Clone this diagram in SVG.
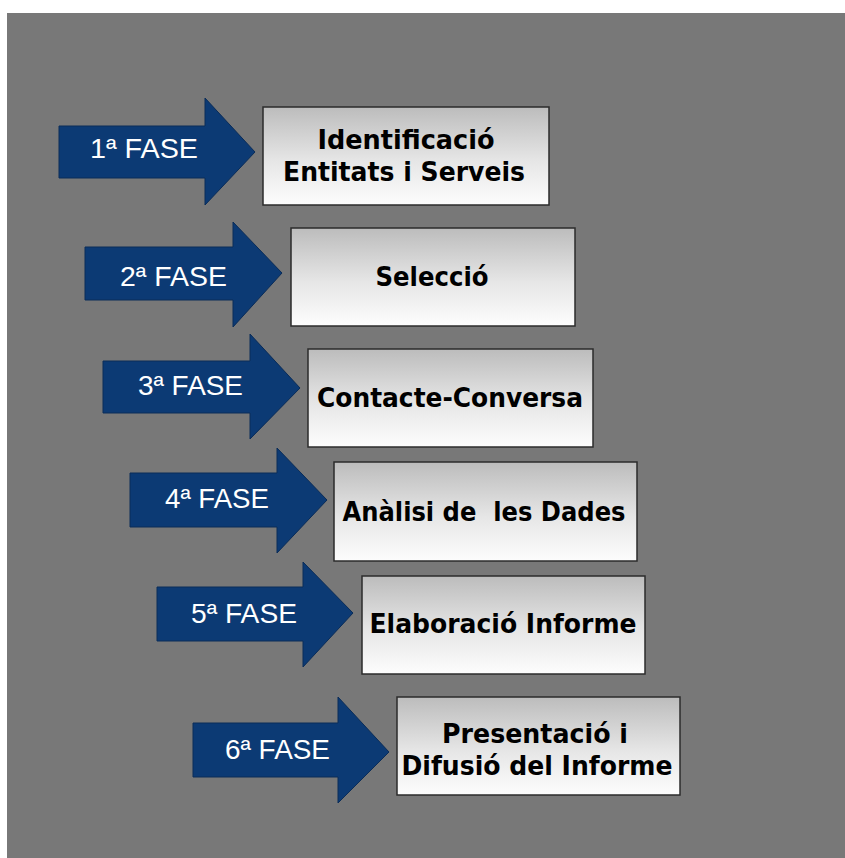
<svg xmlns="http://www.w3.org/2000/svg" width="845" height="858" viewBox="0 0 845 858">
  <defs>
    <linearGradient id="boxGrad" x1="0" y1="0" x2="0" y2="1">
      <stop offset="0" stop-color="#bcbcbc"/>
      <stop offset="0.55" stop-color="#e6e6e6"/>
      <stop offset="1" stop-color="#fdfdfd"/>
    </linearGradient>
    <style>
      .arrow { fill: #0c3a74; stroke: #0a2c58; stroke-width: 1; }
      .box { fill: url(#boxGrad); stroke: #2b2b2b; stroke-width: 1.5; }
      .fase { font-family: "Liberation Sans", Arial, sans-serif; font-size: 28px; fill: #ffffff; }
      .title { font-family: "DejaVu Sans", Verdana, sans-serif; font-weight: bold; font-size: 27px; fill: #000000; text-anchor: middle; white-space: pre; }
    </style>
  </defs>
  <rect x="0" y="0" width="845" height="858" fill="#ffffff"/>
  <rect x="7" y="13" width="838" height="845" fill="#787878"/>

  <g id="connectors">
    <g id="arrow1"><path class="arrow" d="M59,126 H205 V98 L255,152 L205,205 V178 H59 Z"/><text class="fase" x="90" y="158" textLength="108" lengthAdjust="spacingAndGlyphs">1ª FASE</text></g>
    <g id="arrow2"><path class="arrow" d="M85,247 H233 V222 L282,273 L233,327 V300 H85 Z"/><text class="fase" x="120" y="286" textLength="107" lengthAdjust="spacingAndGlyphs">2ª FASE</text></g>
    <g id="arrow3"><path class="arrow" d="M103,361 H250 V334 L300,388 L250,439 V413 H103 Z"/><text class="fase" x="138" y="395" textLength="105" lengthAdjust="spacingAndGlyphs">3ª FASE</text></g>
    <g id="arrow4"><path class="arrow" d="M130,473 H277 V448 L327,500 L277,553 V527 H130 Z"/><text class="fase" x="165" y="508" textLength="104" lengthAdjust="spacingAndGlyphs">4ª FASE</text></g>
    <g id="arrow5"><path class="arrow" d="M157,587 H303 V562 L353,613 L303,667 V641 H157 Z"/><text class="fase" x="191" y="623" textLength="106" lengthAdjust="spacingAndGlyphs">5ª FASE</text></g>
    <g id="arrow6"><path class="arrow" d="M193,723 H338 V697 L389,752 L338,803 V777 H193 Z"/><text class="fase" x="225" y="759" textLength="105" lengthAdjust="spacingAndGlyphs">6ª FASE</text></g>
  </g>

  <g id="node1">
    <rect class="box" x="263" y="107" width="286" height="98"/>
    <text class="title" x="406" y="149" textLength="177" lengthAdjust="spacingAndGlyphs">Identificació</text>
    <text class="title" x="404" y="181" textLength="242" lengthAdjust="spacingAndGlyphs">Entitats i Serveis</text>
  </g>
  <g id="node2">
    <rect class="box" x="291" y="228" width="284" height="98"/>
    <text class="title" x="432" y="286" textLength="113" lengthAdjust="spacingAndGlyphs">Selecció</text>
  </g>
  <g id="node3">
    <rect class="box" x="308" y="349" width="285" height="98"/>
    <text class="title" x="450" y="407" textLength="266" lengthAdjust="spacingAndGlyphs">Contacte-Conversa</text>
  </g>
  <g id="node4">
    <rect class="box" x="334" y="462" width="303" height="99"/>
    <text class="title" x="484" y="521" textLength="283" lengthAdjust="spacingAndGlyphs" xml:space="preserve">Anàlisi de  les Dades</text>
  </g>
  <g id="node5">
    <rect class="box" x="362" y="576" width="283" height="98"/>
    <text class="title" x="503" y="633" textLength="267" lengthAdjust="spacingAndGlyphs">Elaboració Informe</text>
  </g>
  <g id="node6">
    <rect class="box" x="397" y="697" width="283" height="98"/>
    <text class="title" x="535" y="743" textLength="186" lengthAdjust="spacingAndGlyphs">Presentació i</text>
    <text class="title" x="537" y="775" textLength="271" lengthAdjust="spacingAndGlyphs">Difusió del Informe</text>
  </g>
</svg>
